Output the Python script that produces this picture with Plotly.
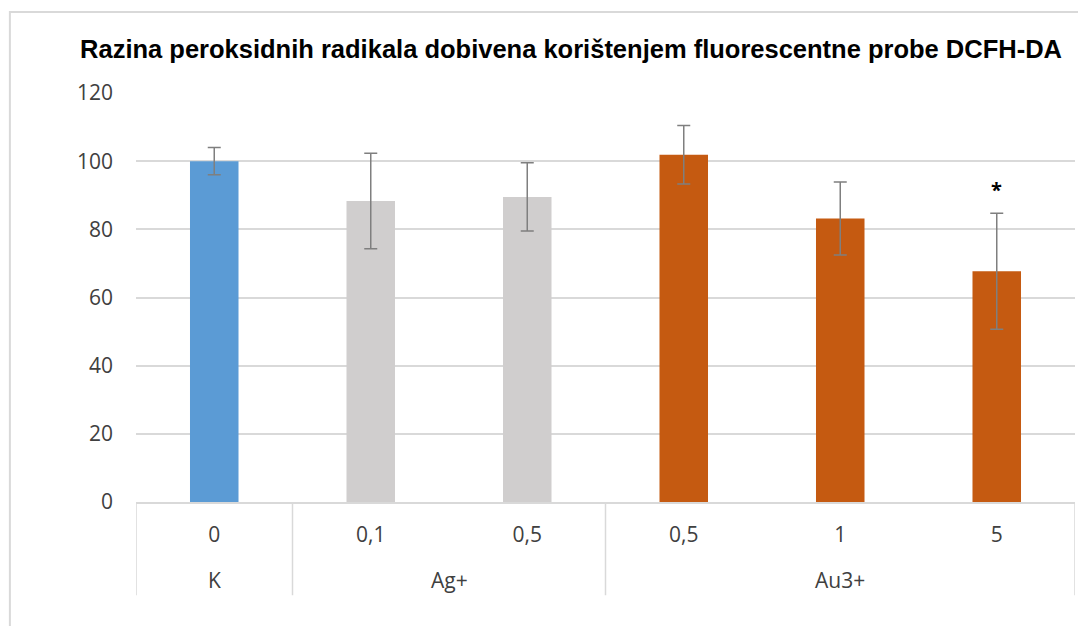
import plotly.graph_objects as go

# ---- data ----
groups = ["K", "Ag+", "Ag+", "Au3+", "Au3+", "Au3+"]
concentrations = ["0", "0,1", "0,5", "0,5", "1", "5"]
values = [100.0, 88.3, 89.5, 101.9, 83.2, 67.7]
errors = [4.0, 14.0, 10.0, 8.6, 10.7, 17.0]
significant = [False, False, False, False, False, True]
y_ticks = [0, 20, 40, 60, 80, 100, 120]
title_text = "Razina peroksidnih radikala dobivena korištenjem fluorescentne probe DCFH-DA"

group_colors = {"K": "#5B9BD5", "Ag+": "#D0CECE", "Au3+": "#C55A11"}

positions = list(range(len(values)))
colors = [group_colors[g] for g in groups]

fig = go.Figure()
fig.add_trace(go.Bar(
    x=positions,
    y=values,
    width=0.31,
    marker=dict(color=colors, line=dict(width=0)),
    error_y=dict(type="data", array=errors, visible=True,
                 color="#7F7F7F", thickness=1.5, width=6.5),
    showlegend=False,
    hoverinfo="y",
))

font_family = "Open Sans, Noto Sans, Arial, sans-serif"
label_color = "#404040"

# page has an 8px body margin, so the figure is 8px smaller than the window
fig.update_layout(
    width=1078, height=618,
    margin=dict(l=128, r=11, t=85, b=124),
    paper_bgcolor="white",
    plot_bgcolor="white",
    title=dict(
        text="<b>" + title_text + "</b>",
        x=0.5223, xanchor="center", y=0.933, yanchor="middle",
        font=dict(family="Liberation Sans, Arial, sans-serif",
                  size=25.5, color="#000000"),
    ),
    xaxis=dict(
        range=[-0.5, len(values) - 0.5],
        tickmode="array",
        tickvals=positions,
        ticktext=concentrations,
        ticks="",
        showgrid=False,
        zeroline=False,
        showline=True,
        linecolor="#D9D9D9",
        linewidth=1.5,
        tickfont=dict(family=font_family, size=21, color=label_color),
        ticklabelstandoff=13,
        fixedrange=True,
    ),
    yaxis=dict(
        range=[0, 120],
        tickmode="array",
        tickvals=y_ticks,
        ticks="",
        showgrid=True,
        gridcolor="#D9D9D9",
        gridwidth=1.5,
        zeroline=False,
        showline=False,
        tickfont=dict(family=font_family, size=21, color=label_color),
        ticklabelstandoff=22,
        fixedrange=True,
    ),
)

# group boundaries and labels (computed from the group list)
n = len(groups)
bounds = [-0.5]
group_spans = []
start = 0
for i in range(1, n + 1):
    if i == n or groups[i] != groups[start]:
        group_spans.append((groups[start], start, i - 1))
        bounds.append(i - 0.5)
        start = i

for b in bounds:
    fig.add_shape(type="line", xref="x", yref="paper",
                  x0=b, x1=b, y0=0, y1=-0.228,
                  line=dict(color="#D9D9D9", width=1.5))

for name, s, e in group_spans:
    fig.add_annotation(x=(s + e) / 2, y=-0.1907, xref="x", yref="paper",
                       text=name, showarrow=False, yanchor="middle",
                       font=dict(family=font_family, size=21, color=label_color))

# significance markers
for xpos, v, err, sig in zip(positions, values, errors, significant):
    if sig:
        fig.add_annotation(x=xpos, y=v + err, xref="x", yref="y",
                           text="<b>*</b>", showarrow=False, yanchor="bottom",
                           yshift=8,
                           font=dict(family=font_family, size=20, color="#000000"))

# outer chart frame
fig.add_shape(type="rect", xref="paper", yref="paper",
              x0=-0.1343, x1=1.05, y0=-0.4, y1=1.198,
              line=dict(color="#D9D9D9", width=2), fillcolor="rgba(0,0,0,0)",
              layer="below")

fig.write_html("out.html")
